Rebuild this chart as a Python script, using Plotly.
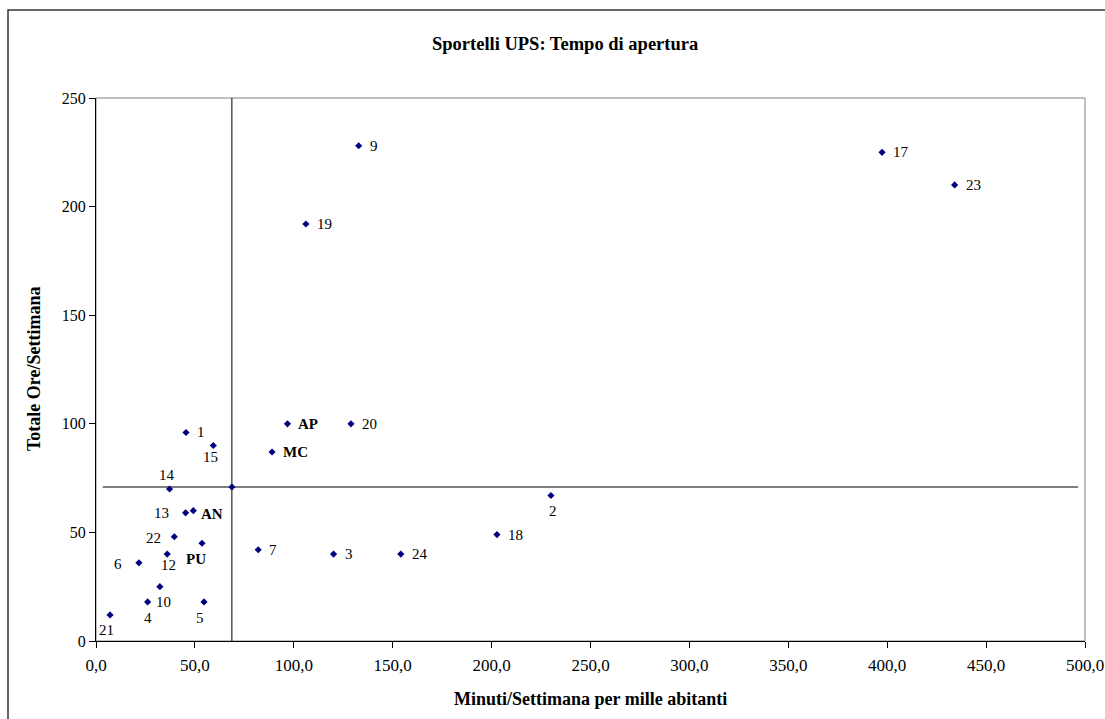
import plotly.graph_objects as go

# ---- data ----
labels = ["1", "15", "14", "13", "AN", "22", "PU", "12", "6", "10", "4", "5", "21",
          "7", "AP", "MC", "20", "2", "18", "3", "24", "9", "19", "17", "23"]
minuti = [45.5, 59.3, 37.2, 45.3, 49.2, 39.6, 53.6, 36.0, 21.7, 32.3, 26.1, 54.6, 7.1,
          82.0, 96.8, 89.0, 128.9, 230.0, 202.7, 120.1, 154.1, 132.8, 106.1, 397.4, 434.1]
ore = [96, 90, 70, 59, 60, 48, 45, 40, 36, 25, 18, 18, 12,
       42, 100, 87, 100, 67, 49, 40, 40, 228, 192, 225, 210]
bold_labels = ["AN", "AP", "MC", "PU"]

media_x = 68.7
media_y = 70.9
hline_x = [3.4, 496.5]
vline_y = [0, 250]

x_ticks = [0, 50, 100, 150, 200, 250, 300, 350, 400, 450, 500]
y_ticks = [0, 50, 100, 150, 200, 250]

title_text = "Sportelli UPS: Tempo di apertura"
x_title = "Minuti/Settimana per mille abitanti"
y_title = "Totale Ore/Settimana"

# ---- label placement (style): anchor, x offset px, y offset px (down) ----
label_place = {
    "15": ("center", -3, 11), "14": ("center", -3, -14), "13": ("right", -15, 0),
    "AN": ("left", 6, 3), "22": ("right", -11, 1), "PU": ("center", -6, 16),
    "12": ("center", 1, 11), "6": ("right", -15, 1), "10": ("center", 4, 15),
    "4": ("center", 0, 16), "5": ("center", -4, 16), "21": ("center", -4, 15),
    "2": ("center", 2, 16),
}
default_place = ("left", 9, 0)

FONT = "Liberation Serif, Times New Roman, serif"
NAVY = "#000080"

fig = go.Figure()

# mean lines
fig.add_trace(go.Scatter(x=[media_x, media_x], y=vline_y, mode="lines",
                         line=dict(color="black", width=1), hoverinfo="skip"))
fig.add_trace(go.Scatter(x=hline_x, y=[media_y, media_y], mode="lines",
                         line=dict(color="black", width=1), hoverinfo="skip"))
# mean point
fig.add_trace(go.Scatter(x=[media_x], y=[media_y], mode="markers",
                         marker=dict(symbol="diamond", size=5.5, color=NAVY)))
# data points
fig.add_trace(go.Scatter(x=minuti, y=ore, mode="markers", text=labels,
                         marker=dict(symbol="diamond", size=5.5, color=NAVY),
                         cliponaxis=False))

annotations = []
for lab, xv, yv in zip(labels, minuti, ore):
    anchor, dx, dy = label_place.get(lab, default_place)
    txt = "<b>%s</b>" % lab if lab in bold_labels else lab
    annotations.append(dict(x=xv, y=yv, xref="x", yref="y", text=txt,
                            showarrow=False, xanchor=anchor, yanchor="middle",
                            xshift=dx, yshift=-dy,
                            font=dict(family=FONT, size=15, color="black")))

L, R, T, B = 96, 20, 98, 78
W, H = 1105, 719
pw = W - L - R
ph = H - T - B

def px_x(p):
    return (p - L) / pw

def px_y(p):
    return (H - B - p) / ph

annotations += [
    dict(text="<b>%s</b>" % title_text, xref="paper", yref="paper",
         x=px_x(565), y=px_y(44), xanchor="center", yanchor="middle",
         showarrow=False, font=dict(family=FONT, size=18.5)),
    dict(text="<b>%s</b>" % x_title, xref="paper", yref="paper",
         x=px_x(590), y=px_y(699), xanchor="center", yanchor="middle",
         showarrow=False, font=dict(family=FONT, size=18)),
    dict(text="<b>%s</b>" % y_title, xref="paper", yref="paper",
         x=px_x(34), y=px_y(369), xanchor="center", yanchor="middle",
         textangle=-90, showarrow=False, font=dict(family=FONT, size=18)),
]

fig.update_layout(
    width=W + 12, height=H, autosize=False,
    margin=dict(l=L, r=R + 12, t=T, b=B, pad=0),
    paper_bgcolor="white", plot_bgcolor="white",
    showlegend=False,
    separators=",.",
    font=dict(family=FONT, size=15, color="black"),
    xaxis=dict(range=[0, 500], tickvals=x_ticks, tickformat=".1f",
               showgrid=False, zeroline=False, showline=True, linecolor="black",
               linewidth=1, ticks="outside", ticklen=6, tickcolor="black",
               ticklabelstandoff=3,
               tickfont=dict(family=FONT, size=17), fixedrange=True),
    yaxis=dict(range=[0, 250], tickvals=y_ticks, tickformat="d",
               showgrid=False, zeroline=False, showline=True, linecolor="black",
               linewidth=1, ticks="outside", ticklen=6, tickcolor="black",
               tickfont=dict(family=FONT, size=16), fixedrange=True),
    shapes=[
        dict(type="rect", xref="paper", yref="paper", x0=0, y0=0, x1=1, y1=1,
             line=dict(color="#808080", width=1), layer="below"),
        dict(type="rect", xref="paper", yref="paper",
             x0=px_x(8), x1=px_x(1112), y0=px_y(730), y1=px_y(10),
             line=dict(color="#333333", width=1.5), layer="below"),
    ],
    annotations=annotations,
)

fig.write_html(
    "out.html",
    config={"responsive": False, "displayModeBar": False},
    post_script=("document.body.style.margin='0';"
                 "document.body.style.overflow='hidden';"
                 "document.documentElement.style.overflow='hidden';"),
)
